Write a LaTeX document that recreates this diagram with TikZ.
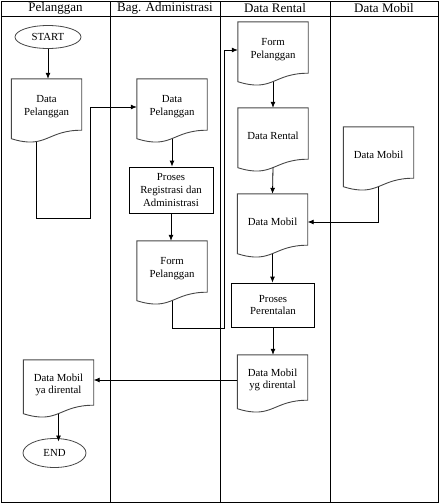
\documentclass[tikz,border=0pt]{standalone}
\usepackage{fontspec}
\setmainfont{Liberation Serif}
\usetikzlibrary{arrows.meta,shapes.geometric}
\definecolor{docgray}{RGB}{70,70,70}

\begin{document}
\begin{tikzpicture}[x=1pt, y=-1pt, >={Latex[length=6pt,width=5pt]},
  lane/.style={draw=black, line width=0.8pt},
  head/.style={font=\fontsize{13}{15}\selectfont},
  doc/.style={minimum width=70pt, minimum height=56pt, inner sep=1pt, align=center,
    font=\fontsize{10.8}{12.8}\selectfont},
  proc/.style={draw, line width=0.8pt, inner sep=1pt, align=center,
    font=\fontsize{10.8}{12.8}\selectfont},
  term/.style={draw=docgray, ellipse, line width=0.8pt, inner sep=0pt,
    font=\fontsize{10.8}{12.8}\selectfont},
  wave/.style={draw=docgray, line width=0.9pt},
  arr/.style={->, line width=0.8pt}]

  \useasboundingbox (0,0) rectangle (440,504);

  % swimlanes
  \draw[lane] (1.5,1.5) rectangle (438.5,502.5);
  \draw[lane] (1.5,16) -- (438.5,16);
  \foreach \x in {110,220,330}
    \draw[lane] (\x,1.5) -- (\x,502.5);
  \node[head] (h1) at (55.5,8.5) {Pelanggan};
  \node[head] (h2) at (165,8.5) {Bag. Administrasi};
  \node[head] (h3) at (275,8.5) {Data Rental};
  \node[head] (h4) at (384,8.5) {Data Mobil};

  % Pelanggan
  \node[term, minimum width=66pt, minimum height=23pt] (start) at (48,37) {START};
  \node[doc] (dp1) at (46.5,107) {Data\\Pelanggan};
  \node[doc, minimum height=50pt] (dmy) at (58.5,385) {Data Mobil\\ya dirental};
  \node[term, minimum width=63pt, minimum height=29pt] (end) at (54.5,453) {END};

  % Bag. Administrasi
  \node[doc] (dp2) at (172,107) {Data\\Pelanggan};
  \node[proc, minimum width=84pt, minimum height=46pt] (prr) at (171,190)
    {Proses\\Registrasi dan\\Administrasi};
  \node[doc] (fp1) at (172,269) {Form\\Pelanggan};

  % Data Rental
  \node[doc] (fp2) at (273,50) {Form\\Pelanggan};
  \node[doc] (dr) at (273,136) {Data Rental};
  \node[doc] (dm) at (272.5,222) {Data Mobil};
  \node[proc, minimum width=83pt, minimum height=44pt] (pp) at (273,305)
    {Proses\\Perentalan};
  \node[doc, minimum height=50pt] (dmr) at (272.5,380) {Data Mobil\\yg dirental};

  % Data Mobil
  \node[doc] (dmo) at (378.5,155) {Data Mobil};

  % document outlines
  \foreach \n in {dp1,dmy,dp2,fp1,fp2,dr,dm,dmr,dmo}
    \draw[wave] (\n.north west) -- (\n.north east) -- ([yshift=5pt]\n.south east)
      .. controls ([yshift=5pt]\n.south) and ([yshift=-14.5pt]\n.south)
      .. ([yshift=-3.5pt]\n.south west) -- cycle;

  % bends
  \coordinate (k1) at (90,218);
  \coordinate (k2) at (224,328);

  % flows
  \draw[arr] (start.south) -- (start.south |- dp1.north);
  \draw[arr] ([xshift=-10.5pt,yshift=-6.4pt]dp1.south) |- (k1) |- (dp2.west);
  \draw[arr] ([yshift=-3.4pt]dp2.south) -- (dp2.south |- prr.north);
  \draw[arr] (prr.south) -- (prr.south |- fp1.north);
  \draw[arr] ([yshift=-3.4pt]fp1.south) |- (k2) |- (fp2.west);
  \draw[arr] ([yshift=-3.4pt]fp2.south) -- (dr.north);
  \draw[arr] ([yshift=-3.4pt]dr.south) -- (dm.north);
  \draw[arr] ([yshift=-3.4pt]dmo.south) |- (dm.east);
  \draw[arr] ([yshift=-3.4pt]dm.south) -- (dm.south |- pp.north);
  \draw[arr] (pp.south) -- (pp.south |- dmr.north);
  \draw[arr] (dmr.west) -- (dmr.west -| dmy.east);
  \draw[arr] ([yshift=-3.4pt]dmy.south) -- ([yshift=-3.4pt]dmy.south |- end.north);
\end{tikzpicture}
\end{document}
